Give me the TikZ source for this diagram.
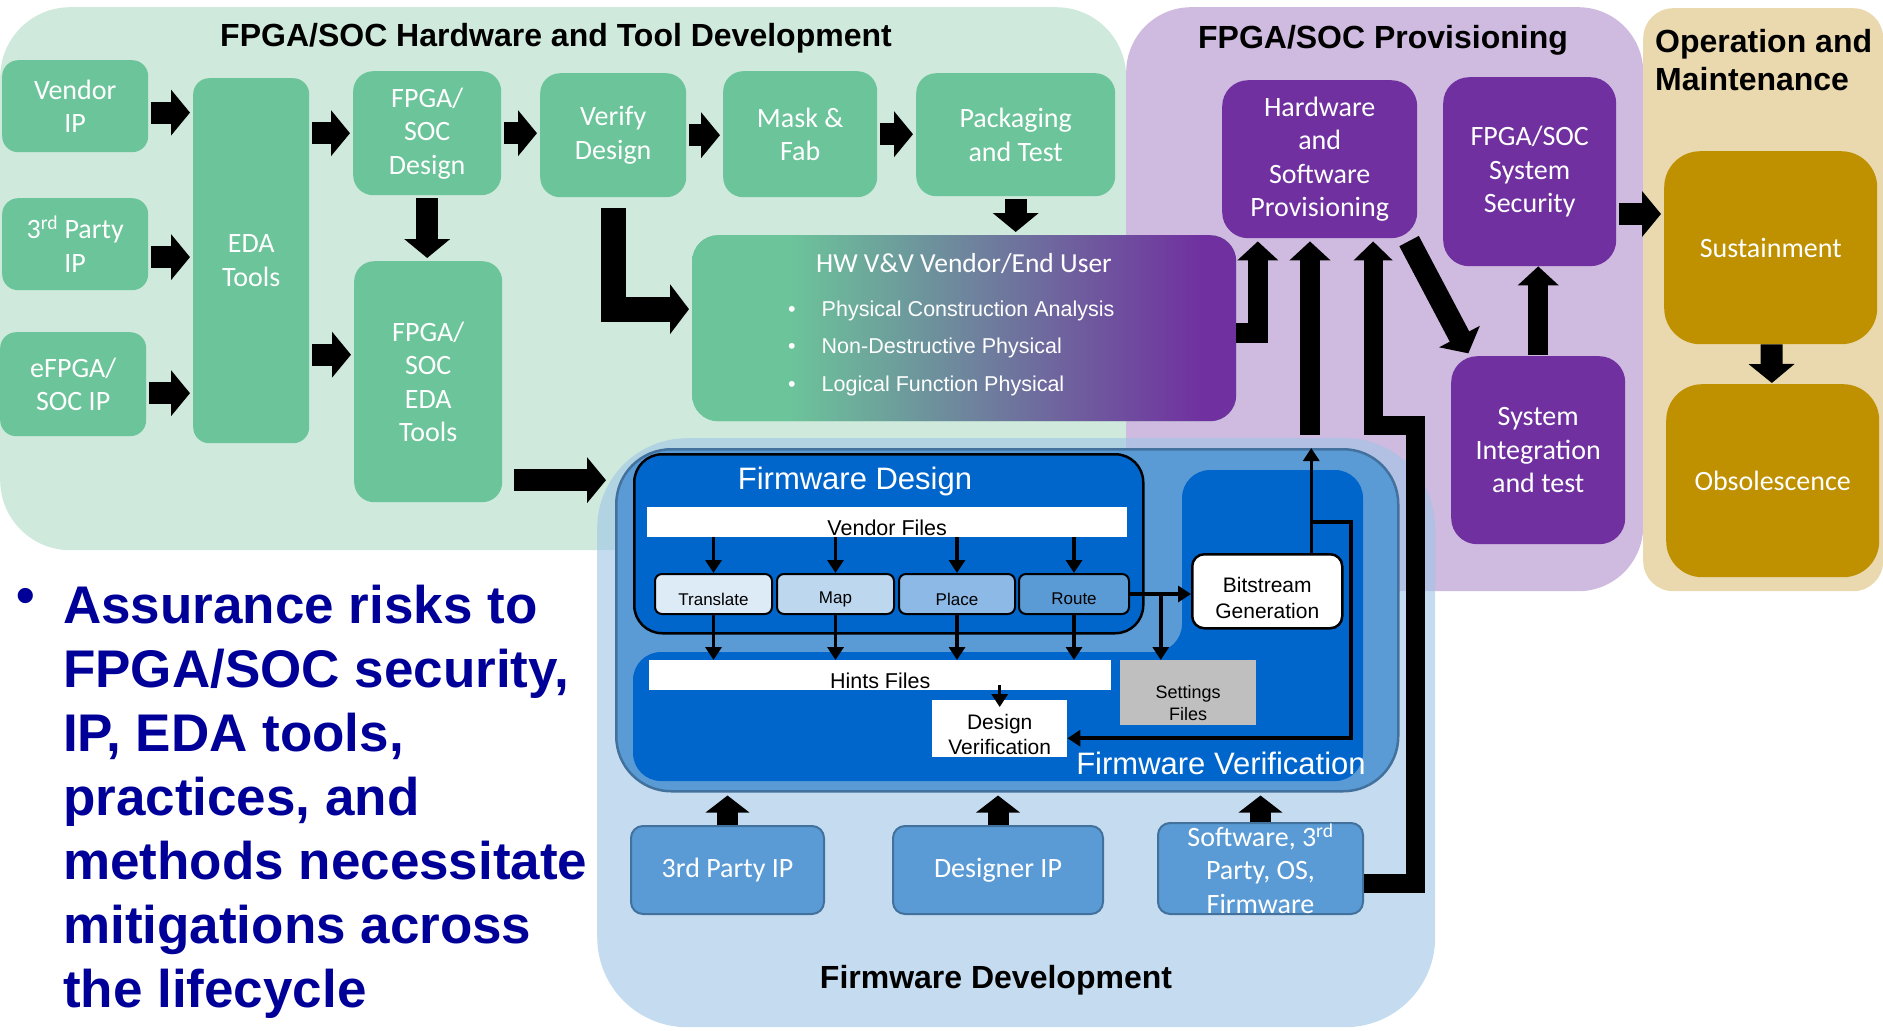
\documentclass[tikz,border=0pt]{standalone}
\usepackage{fontspec}
\setmainfont{Liberation Sans}
\newfontfamily\calfont{Carlito}
\usetikzlibrary{arrows.meta,positioning}

\definecolor{hwpanel}{RGB}{207,234,220}
\definecolor{hwgreen}{RGB}{108,196,154}
\definecolor{provpanel}{RGB}{207,186,224}
\definecolor{provpurple}{RGB}{112,48,160}
\definecolor{oppanel}{RGB}{234,217,175}
\definecolor{opgold}{RGB}{191,144,0}
\definecolor{fwpanel}{RGB}{158,197,230}
\definecolor{fwmid}{RGB}{91,155,213}
\definecolor{fwborder}{RGB}{65,113,156}
\definecolor{fwdark}{RGB}{0,102,204}
\definecolor{riskblue}{RGB}{0,0,153}
\definecolor{stepa}{RGB}{221,235,247}
\definecolor{stepb}{RGB}{189,215,238}
\definecolor{stepc}{RGB}{141,185,230}
\definecolor{stepd}{RGB}{91,155,213}
\definecolor{setgray}{RGB}{191,191,191}

\pgfdeclarehorizontalshading{vvshade}{100bp}{color(0bp)=(hwgreen); color(34bp)=(hwgreen); color(72bp)=(provpurple); color(100bp)=(provpurple)}

\newcommand{\lblfont}{\calfont\fontsize{28}{33.5}\selectfont}
\newcommand{\ttlfont}{\bfseries\fontsize{32}{38}\selectfont}
\newcommand{\fwfont}{\fontsize{21.5}{25.5}\selectfont}
\newcommand{\stepfont}{\fontsize{17}{20}\selectfont}
\newcommand{\padtop}[1]{\rule{0pt}{#1}}

\begin{document}
\begin{tikzpicture}[x=1pt, y=-1pt,
    panel/.style={anchor=north west, inner sep=0pt},
    hwbox/.style={fill=hwgreen, rounded corners=16pt, text=white, font=\lblfont, align=center, anchor=north west, inner sep=0pt},
    provbox/.style={hwbox, fill=provpurple, rounded corners=26pt},
    opbox/.style={hwbox, fill=opgold, rounded corners=36pt},
    ipbox/.style={hwbox, fill=fwmid, draw=fwborder, line width=2pt, rounded corners=12pt},
    filebar/.style={fill=white, anchor=north west, inner sep=0pt, font=\fwfont},
    stepbox/.style={draw=black, line width=2pt, rounded corners=7pt, anchor=north west, inner sep=0pt, font=\stepfont, minimum height=40pt},
    blk/.style={-{Triangle[length=19pt,width=45pt]}, line width=22pt, shorten <=3pt, shorten >=3pt},
    ipblk/.style={-{Triangle[length=17pt,width=43pt]}, line width=21pt},
    fwarrow/.style={-{Triangle[length=13pt,width=16pt]}, line width=3.5pt},
    paneltitle/.style={font=\ttlfont, inner sep=0pt, anchor=base}
]
\useasboundingbox (0,0) rectangle (1883,1031);

\node[panel, fill=hwpanel, rounded corners=70pt, minimum width=1126pt, minimum height=543pt] (hwpanel) at (0,7) {};
\node[panel, fill=provpanel, rounded corners=65pt, minimum width=517pt, minimum height=584pt] (provpanel) at (1126,7) {};
\node[panel, fill=oppanel, rounded corners=30pt, minimum width=240pt, minimum height=583pt] (oppanel) at (1643,8) {};
\node[panel, fill=fwpanel, fill opacity=0.6, rounded corners=90pt, minimum width=838pt, minimum height=589pt] (fwpanel) at (597,438) {};

\node[paneltitle] (hwtitle) at (556,46) {FPGA/SOC Hardware and Tool Development};
\node[paneltitle] (provtitle) at (1383,48) {FPGA/SOC Provisioning};
\node[font=\ttlfont, inner sep=0pt, anchor=north west, align=left] (optitle) at (1655,29) {Operation and\\Maintenance};
\node[paneltitle] (fwdevtitle) at (996,988) {Firmware Development};

\node[hwbox, minimum width=146pt, minimum height=92pt] (vendor) at (2,60) {Vendor\\IP};
\node[hwbox, minimum width=146pt, minimum height=92pt] (party) at (2,198) {3\textsuperscript{rd} Party\\IP};
\node[hwbox, minimum width=146pt, minimum height=104pt] (efpga) at (0,332) {eFPGA/\\SOC IP};
\node[hwbox, minimum width=116pt, minimum height=365pt] (eda) at (193,78) {EDA\\Tools};
\node[hwbox, minimum width=148pt, minimum height=124pt, rounded corners=20pt] (design) at (353,71) {FPGA/\\SOC\\Design};
\node[hwbox, minimum width=148pt, minimum height=241pt, rounded corners=20pt] (edatools) at (354,261) {FPGA/\\SOC\\EDA\\Tools};
\node[hwbox, minimum width=146pt, minimum height=124pt, rounded corners=20pt] (verify) at (540,73) {Verify\\Design};
\node[hwbox, minimum width=154pt, minimum height=126pt, rounded corners=20pt] (maskfab) at (723,71) {Mask \&\\Fab};
\node[hwbox, minimum width=199pt, minimum height=123pt, rounded corners=20pt] (packtest) at (916,73) {Packaging\\and Test};
\node[hwbox, shade, shading=vvshade, rounded corners=26pt, minimum width=544pt, minimum height=186pt] (hwvv) at (692,235) {};
\node[text=white, font=\calfont\fontsize{27.5}{33}\selectfont, inner sep=0pt, anchor=base] (vvtitle) at (964,272) {HW V\&V Vendor/End User};
\node[text=white, font=\fontsize{21.5}{37.5}\selectfont, inner sep=0pt, anchor=base west] (vvlist) at (788,316) {\begin{tabular}[t]{@{}l@{\hspace{26pt}}l@{}}\textbullet & Physical Construction Analysis\\ \textbullet & Non-Destructive Physical\\ \textbullet & Logical Function Physical\end{tabular}};

\node[provbox, minimum width=195pt, minimum height=158pt] (hwsw) at (1222,80) {Hardware\\and\\Software\\Provisioning};
\node[provbox, minimum width=173pt, minimum height=189pt] (security) at (1443,77) {FPGA/SOC\\System\\Security};
\node[provbox, minimum width=174pt, minimum height=188pt] (sysint) at (1451,356) {System\\Integration\\and test};
\node[opbox, minimum width=213pt, minimum height=193pt] (sustain) at (1664,151) {Sustainment};
\node[opbox, minimum width=213pt, minimum height=193pt] (obsol) at (1666,384) {Obsolescence};

\node[panel, fill=fwmid, draw=fwborder, line width=2.5pt, rounded corners=55pt, minimum width=782pt, minimum height=342pt] (fwcont) at (615,448) {};
\fill[fwdark, rounded corners=28pt] (633,652) -- (1182,652) -- (1182,470) -- (1363,470) -- (1363,781) -- (633,781) -- cycle;
\node[panel, fill=fwdark, draw=black, line width=2.5pt, rounded corners=28pt, minimum width=509pt, minimum height=179pt] (fwdesign) at (633,453) {};
\node[text=white, font=\fontsize{31}{36}\selectfont, inner sep=0pt, anchor=base] (fwdtitle) at (855,489) {Firmware Design};
\node[filebar, minimum width=480pt, minimum height=30pt] (vendorfiles) at (647,507) {\padtop{27pt}Vendor Files};
\node[stepbox, fill=stepa, minimum width=117pt] (translate) at (654,573) {\padtop{23pt}Translate};
\node[stepbox, fill=stepb, minimum width=117pt, right=3pt of translate] (map) {\padtop{23pt}Map};
\node[stepbox, fill=stepc, minimum width=116pt, right=3pt of map] (place) {\padtop{23pt}Place};
\node[stepbox, fill=stepd, minimum width=110pt, right=2pt of place] (route) {\padtop{21pt}Route};
\node[filebar, minimum width=462pt, minimum height=30pt] (hints) at (649,660) {\padtop{27pt}Hints Files};
\node[fill=white, anchor=north west, inner sep=0pt, minimum width=135pt, minimum height=57pt, align=center, font=\fontsize{21}{25}\selectfont] (dv) at (932,700) {\padtop{26pt}Design\\Verification};
\node[fill=setgray, anchor=north west, inner sep=0pt, minimum width=136pt, minimum height=65pt, align=center, font=\fontsize{18}{21.5}\selectfont] (settings) at (1120,660) {\padtop{34pt}Settings\\Files};
\node[fill=white, draw=black, line width=2.5pt, rounded corners=12pt, anchor=north west, minimum width=150pt, minimum height=74pt, inner sep=0pt, align=center, font=\fontsize{21}{25.5}\selectfont] (bitstream) at (1191,553) {\padtop{29pt}Bitstream\\Generation};
\node[text=white, font=\fontsize{31}{36}\selectfont, inner sep=0pt, anchor=base] (fwvtitle) at (1221,774) {Firmware Verification};

\node[ipbox, minimum width=193pt, minimum height=88pt] (ip3) at (630,825) {3rd Party IP};
\node[ipbox, minimum width=210pt, minimum height=88pt] (designerip) at (892,825) {Designer IP};
\node[ipbox, minimum width=205pt, minimum height=91pt] (software) at (1157,822) {Software, 3\textsuperscript{rd}\\Party, OS,\\Firmware};

\node[anchor=north west, inner sep=0pt, align=left, text=riskblue, font=\bfseries\fontsize{53}{64}\selectfont] (risks) at (63,585) {Assurance risks to\\FPGA/SOC security,\\IP, EDA tools,\\practices, and\\methods necessitate\\mitigations across\\the lifecycle};
\node[text=riskblue, font=\bfseries\fontsize{53}{64}\selectfont, inner sep=0pt] (riskdot) at (26,601) {\textbullet};

\draw[blk] (vendor.355) -- (vendor.355 -| eda.west);
\draw[blk] (party.350) -- (party.350 -| eda.west);
\draw[blk] (efpga.353) -- (efpga.353 -| eda.west);
\draw[blk] (eda.east |- design) -- (design);
\draw[blk] (eda.east |- edatools.160) -- (edatools.160);
\draw[blk] (design) -- (design |- edatools.north);
\draw[blk] (design.east) -- (design.east -| verify.west);
\draw[blk] (verify) -- (verify -| maskfab.west);
\draw[blk] (maskfab) -- (maskfab -| packtest.west);
\draw[blk] (packtest) -- (packtest |- hwvv.north);
\draw[blk, line width=25pt, -{Triangle[length=19pt,width=49pt]}, shorten <=11pt] (verify.south) |- (hwvv.176);
\draw[blk, shorten <=12pt, shorten >=9pt] (edatools.307) -- (edatools.307 -| fwcont.west);
\draw[blk, line width=20pt, -{Triangle[length=19pt,width=40pt]}, shorten <=0pt] (hwvv.359) -| (hwsw.232);
\draw[blk, line width=20pt, -{Triangle[length=19pt,width=40pt]}] (fwpanel.north -| hwsw.263) -- (hwsw.263);
\coordinate (swbend) at (1415,425);
\draw[blk, line width=19pt, -{Triangle[length=19pt,width=38pt]}, shorten <=0pt] (software.352) -| (swbend) -| (hwsw.304);
\draw[blk] (hwsw.318) -- (sysint.126);
\draw[blk, line width=20pt, -{Triangle[length=19pt,width=40pt]}, shorten <=1pt, shorten >=0pt] (sysint) -- (sysint |- security.south);
\draw[blk] (security.334) -- (security.334 -| sustain.west);
\draw[blk, shorten <=0pt, shorten >=1pt] (sustain) -- (obsol);

\foreach \src in {ip3, designerip, software}
  \draw[ipblk, shorten >=3pt] (\src) -- (\src |- fwcont.south);

\foreach \stp in {translate, map, place, route} {
  \draw[fwarrow] (vendorfiles.south -| \stp) -- (\stp);
  \draw[fwarrow] (\stp) -- (\stp |- hints.north);
}
\draw[fwarrow] (route) -- (route -| bitstream.west);
\draw[fwarrow] (route -| settings.130) -- (settings.130);
\draw[fwarrow] (bitstream.41) -- (bitstream.41 |- fwcont.north);
\coordinate (fwloop) at (1351,522);
\draw[fwarrow] (bitstream.41 |- fwloop) -| (fwloop |- dv.352) -- (dv.352);
\draw[fwarrow, shorten <=-5pt, shorten >=-7pt] (hints.south -| dv) -- (dv.north);
\end{tikzpicture}
\end{document}
